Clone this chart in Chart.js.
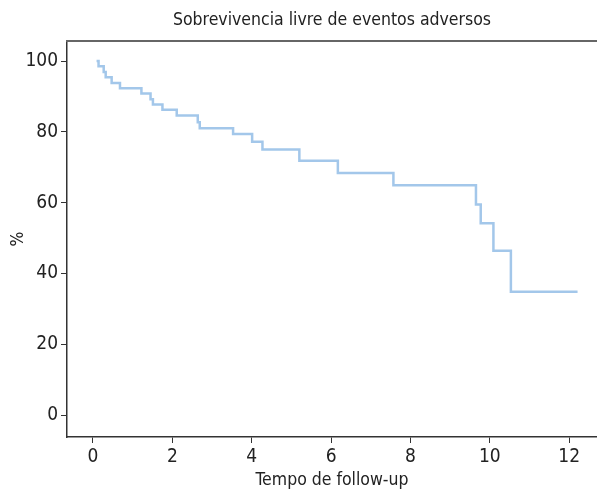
<!DOCTYPE html>
<html lang="pt">
<head>
    <meta charset="UTF-8">
    <title>Sobrevivencia livre de eventos adversos</title>
    <script src="https://cdn.jsdelivr.net/npm/chart.js@4.4.1/dist/chart.umd.min.js"></script>
    <style>
        body { margin: 0; background: #fff; }
        #chart { display: block; }
    </style>
</head>
<body>
    <canvas id="chart" width="597" height="493"></canvas>

    <script>
        // Dados (tempo em anos, % sem eventos)
        const tempos = [0.09, 0.14, 0.27, 0.32, 0.47, 0.68, 1.22, 1.45, 1.51, 1.75, 2.11, 2.64, 2.69, 3.53, 4.01, 4.27, 5.20, 6.17, 7.57, 9.65, 9.77, 10.09, 10.53, 12.21];
        const sobrevivencia = [100, 98.5, 96.9, 95.4, 93.8, 92.3, 90.8, 89.2, 87.7, 86.2, 84.6, 82.7, 81.0, 79.4, 77.2, 75.0, 71.8, 68.4, 64.9, 59.5, 54.2, 46.4, 34.8, 34.8];
        const xTicks = [0, 2, 4, 6, 8, 10, 12];
        const yTicks = [0, 20, 40, 60, 80, 100];

        const fonte = "'Liberation Sans Narrow', 'Arial Narrow', 'DejaVu Sans Condensed', sans-serif";
        Chart.defaults.font.family = fonte;
        Chart.defaults.color = '#222';

        const pontos = tempos.map((t, i) => ({ x: t, y: sobrevivencia[i] }));

        new Chart(document.getElementById('chart'), {
            type: 'line',
            data: {
                datasets: [{
                    data: pontos,
                    stepped: 'before',
                    borderColor: 'rgb(163, 199, 234)',
                    borderWidth: 2.5,
                    pointRadius: 0,
                    fill: false
                }]
            },
            options: {
                responsive: false,
                animation: false,
                devicePixelRatio: 1,
                layout: { padding: 0 },
                plugins: {
                    legend: { display: false },
                    tooltip: { enabled: false }
                },
                scales: {
                    x: {
                        type: 'linear',
                        position: 'bottom',
                        min: -0.655,
                        max: 12.70,
                        afterBuildTicks: s => { s.ticks = xTicks.map(v => ({ value: v })); },
                        afterFit: s => { s.height = 56; },
                        grid: { drawOnChartArea: false, drawTicks: true, tickLength: 6, color: '#333' },
                        border: { color: '#333', width: 1.5 },
                        ticks: { font: { size: 19 }, padding: 3, maxRotation: 0 },
                        title: { display: true, text: 'Tempo de follow-up', font: { size: 17.5 }, padding: { top: 0, bottom: 2 } }
                    },
                    y: {
                        type: 'linear',
                        position: 'left',
                        min: -6.2,
                        max: 105.65,
                        afterBuildTicks: s => { s.ticks = yTicks.map(v => ({ value: v })); },
                        afterFit: s => { s.width = 67; },
                        grid: { drawOnChartArea: false, drawTicks: true, tickLength: 6, color: '#333' },
                        border: { color: '#333', width: 1.5 },
                        ticks: { font: { size: 19 }, padding: 3 },
                        title: { display: true, text: '%', font: { size: 17.5 }, padding: { top: 8, bottom: 0 } }
                    },
                    topo: {
                        type: 'linear',
                        position: 'top',
                        min: 0,
                        max: 1,
                        afterFit: s => { s.height = 41; },
                        grid: { display: false },
                        border: { color: '#666', width: 2 },
                        ticks: { display: false },
                        title: { display: true, text: 'Sobrevivencia livre de eventos adversos', font: { size: 17.5 }, padding: { top: 10, bottom: 0 } }
                    }
                }
            }
        });
    </script>
</body>
</html>
